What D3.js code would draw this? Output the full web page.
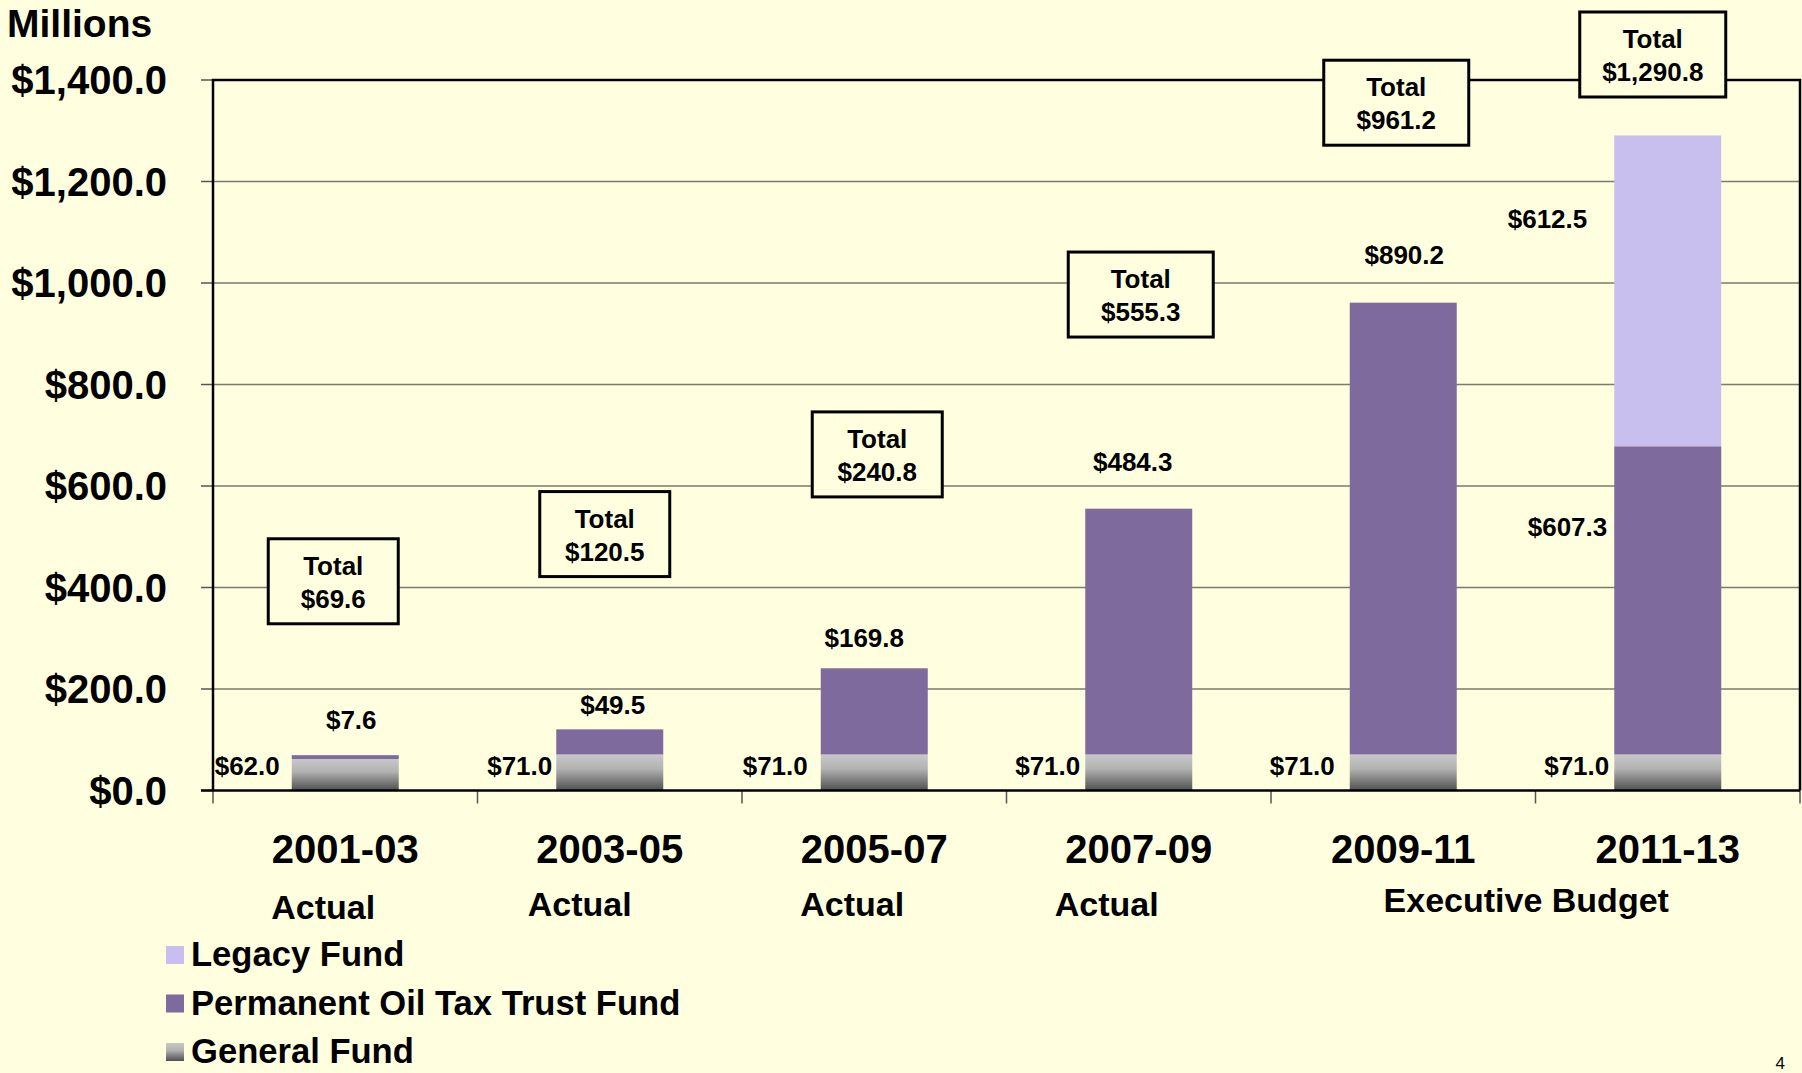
<!DOCTYPE html>
<html lang="en">
<head>
  <meta charset="UTF-8">
  <title>Oil Tax Fund Allocations</title>
  <style>
    body {
      margin: 0;
      background-color: #ffffe0;
    }
    svg {
      display: block;
      background-color: #ffffe0;
      font-family: "Liberation Sans", Arial, sans-serif;
      font-weight: bold;
    }
  </style>
  <script src="https://d3js.org/d3.v7.min.js"></script>
</head>
<body>
  <svg width="1802" height="1073"></svg>

  <script>
    // data
    const periods = ["2001-03", "2003-05", "2005-07", "2007-09", "2009-11", "2011-13"];
    const generalFund = [62.0, 71.0, 71.0, 71.0, 71.0, 71.0];
    const oilTrustFund = [7.6, 49.5, 169.8, 484.3, 890.2, 607.3];
    const legacyFund = [0, 0, 0, 0, 0, 612.5];
    const totals = [69.6, 120.5, 240.8, 555.3, 961.2, 1290.8];
    const yTicks = [0, 200, 400, 600, 800, 1000, 1200, 1400];
    const notes = ["Actual", "Actual", "Actual", "Actual", "Executive Budget"];

    // annotation placement (label anchors in value units, x nudges in px)
    const oilLabelAt = [121, 151, 283, 630, 1037, 502];
    const oilLabelDx = [6, 3, -10, -6, 1, -7];
    const legacyLabelAt = [null, null, null, null, null, 1108];
    const genLabelDx = [-12, -4, -13, -5, -15, -5];
    const boxTopAt = [496, 589, 746, 1061, 1439, 1534];
    const boxDx = [-12, -5, 3, 2, -7, -15];
    const boxW = [130, 130, 130, 145, 145, 146];
    const noteX = [-22, -30, -22, -32, 123]; // offset from band centre
    const noteY = [919, 916, 916, 916, 912];

    const svg = d3.select("svg");
    const margin = { left: 213, right: 2, top: 80 };
    const plotRight = 1800;
    const plotBottom = 790.5;

    const x = d3.scaleBand()
      .domain(periods)
      .range([margin.left, plotRight])
      .paddingInner(0.5955)
      .paddingOuter(0.29775);

    const y = d3.scaleLinear()
      .domain([0, 1400])
      .range([plotBottom, margin.top]);

    const colors = { legacy: "#c8bfee", oil: "#7e6a9c" };

    const defs = svg.append("defs");
    const grad = defs.append("linearGradient")
      .attr("id", "gen").attr("x1", 0).attr("y1", 0).attr("x2", 0).attr("y2", 1);
    grad.append("stop").attr("offset", "0%").attr("stop-color", "#c8c8c8");
    grad.append("stop").attr("offset", "40%").attr("stop-color", "#b2b2b2");
    grad.append("stop").attr("offset", "100%").attr("stop-color", "#4f4f4f");

    // gridlines
    svg.append("g").selectAll("line")
      .data(yTicks.filter(d => d > 0 && d < 1400))
      .join("line")
      .attr("x1", margin.left).attr("x2", plotRight)
      .attr("y1", d => y(d)).attr("y2", d => y(d))
      .attr("stroke", "#7a7a6e").attr("stroke-width", 1.6);

    // y ticks outside
    svg.append("g").selectAll("line")
      .data(yTicks)
      .join("line")
      .attr("x1", margin.left - 12).attr("x2", margin.left)
      .attr("y1", d => y(d)).attr("y2", d => y(d))
      .attr("stroke", "#555").attr("stroke-width", 1.5);

    svg.append("g").selectAll("text")
      .data(yTicks)
      .join("text")
      .attr("x", 167)
      .attr("y", d => y(d) + 14)
      .attr("text-anchor", "end")
      .attr("font-size", 40)
      .text(d => "$" + d3.format(",.1f")(d));

    // category ticks below the axis
    const step = x.step();
    svg.append("g").selectAll("line")
      .data(d3.range(periods.length + 1))
      .join("line")
      .attr("x1", i => margin.left + i * step).attr("x2", i => margin.left + i * step)
      .attr("y1", plotBottom).attr("y2", plotBottom + 13)
      .attr("stroke", "#555").attr("stroke-width", 1.5);

    // stacked bars
    const bw = x.bandwidth();
    const bars = svg.append("g");
    bars.selectAll(".gen").data(periods).join("rect")
      .attr("x", d => x(d)).attr("width", bw)
      .attr("y", (d, i) => y(generalFund[i]))
      .attr("height", (d, i) => y(0) - y(generalFund[i]))
      .attr("fill", "url(#gen)");
    bars.selectAll(".oil").data(periods).join("rect")
      .attr("x", d => x(d)).attr("width", bw)
      .attr("y", (d, i) => y(generalFund[i] + oilTrustFund[i]))
      .attr("height", (d, i) => y(generalFund[i]) - y(generalFund[i] + oilTrustFund[i]))
      .attr("fill", colors.oil);
    bars.selectAll(".leg").data(periods.filter((d, i) => legacyFund[i] > 0)).join("rect")
      .attr("x", d => x(d)).attr("width", bw)
      .attr("y", d => { const i = periods.indexOf(d); return y(totals[i]); })
      .attr("height", d => {
        const i = periods.indexOf(d);
        return y(generalFund[i] + oilTrustFund[i]) - y(totals[i]);
      })
      .attr("fill", colors.legacy);

    // plot frame: left, top, right, bottom
    const frame = svg.append("g").attr("stroke", "#000").attr("stroke-width", 2.5).attr("fill", "none");
    frame.append("path")
      .attr("d", `M${margin.left},${plotBottom}V${margin.top}H${plotRight}V${plotBottom}`);
    frame.append("line")
      .attr("x1", margin.left - 12).attr("x2", plotRight)
      .attr("y1", plotBottom).attr("y2", plotBottom);

    const fmt = v => "$" + d3.format(",.1f")(v);
    const cx = d => x(d) + bw / 2;

    // general fund labels
    svg.append("g").selectAll("text").data(periods).join("text")
      .attr("x", (d, i) => x(d) + genLabelDx[i])
      .attr("y", y(29.6))
      .attr("text-anchor", "end")
      .attr("font-size", 26)
      .text((d, i) => fmt(generalFund[i]));

    // oil trust fund labels
    svg.append("g").selectAll("text").data(periods).join("text")
      .attr("x", (d, i) => i < 5 ? cx(d) + oilLabelDx[i] : x(d) + oilLabelDx[i])
      .attr("y", (d, i) => y(oilLabelAt[i]))
      .attr("text-anchor", (d, i) => i < 5 ? "middle" : "end")
      .attr("font-size", 26)
      .text((d, i) => fmt(oilTrustFund[i]));

    // legacy label
    svg.append("g").selectAll("text").data(periods.filter((d, i) => legacyFund[i] > 0)).join("text")
      .attr("x", d => x(d) - 27)
      .attr("y", d => y(legacyLabelAt[periods.indexOf(d)]))
      .attr("text-anchor", "end")
      .attr("font-size", 26)
      .text(d => fmt(legacyFund[periods.indexOf(d)]));

    // total boxes
    const boxes = svg.append("g").selectAll("g").data(periods).join("g")
      .attr("transform", (d, i) => `translate(${cx(d) + boxDx[i]},${y(boxTopAt[i])})`);
    boxes.append("rect")
      .attr("x", (d, i) => -boxW[i] / 2).attr("width", (d, i) => boxW[i])
      .attr("y", 0).attr("height", 85)
      .attr("fill", "#ffffe0").attr("stroke", "#000").attr("stroke-width", 3);
    boxes.append("text").attr("y", 36).attr("text-anchor", "middle").attr("font-size", 26).text("Total");
    boxes.append("text").attr("y", 69).attr("text-anchor", "middle").attr("font-size", 26)
      .text((d, i) => fmt(totals[i]));

    // category labels
    svg.append("g").selectAll("text").data(periods).join("text")
      .attr("x", d => cx(d))
      .attr("y", 863)
      .attr("text-anchor", "middle")
      .attr("font-size", 40)
      .text(d => d);

    svg.append("g").selectAll("text").data(notes).join("text")
      .attr("x", (d, i) => cx(periods[i]) + noteX[i])
      .attr("y", (d, i) => noteY[i])
      .attr("text-anchor", "middle")
      .attr("font-size", 34)
      .text(d => d);

    // axis title
    svg.append("text").attr("x", 7).attr("y", 37).attr("font-size", 39).text("Millions");

    // legend
    const legendItems = [
      { name: "Legacy Fund", fill: colors.legacy },
      { name: "Permanent Oil Tax Trust Fund", fill: colors.oil },
      { name: "General Fund", fill: "url(#gen)" }
    ];
    const legend = svg.append("g").selectAll("g").data(legendItems).join("g")
      .attr("transform", (d, i) => `translate(166,${946 + i * 48.5})`);
    legend.append("rect").attr("width", 18).attr("height", 18).attr("fill", d => d.fill);
    legend.append("text").attr("x", 25).attr("y", 20).attr("font-size", 34.6).text(d => d.name);

    // page number
    svg.append("text")
      .attr("x", 1785).attr("y", 1069)
      .attr("text-anchor", "end")
      .attr("font-size", 17)
      .attr("font-weight", "normal")
      .text("4");
  </script>
</body>
</html>
